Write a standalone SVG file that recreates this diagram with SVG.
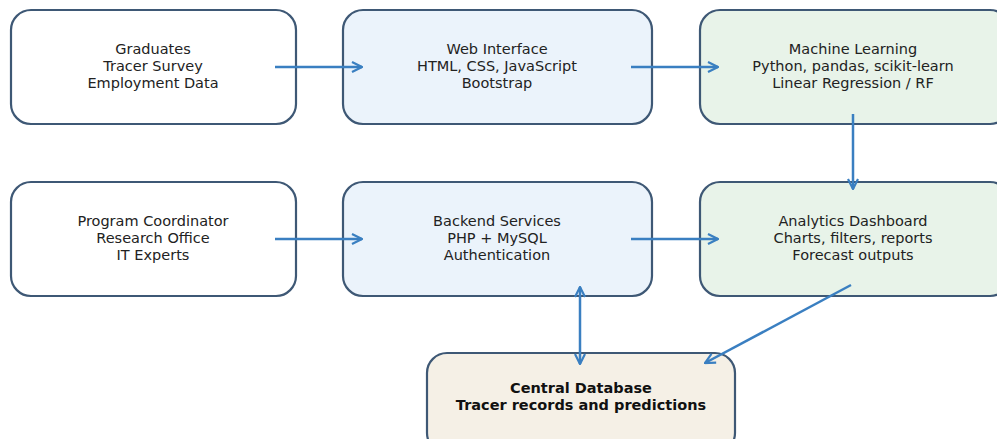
<svg xmlns="http://www.w3.org/2000/svg" width="997" height="439" viewBox="0 0 997 439">
<defs>
<marker id="ah" viewBox="0 0 12 12" refX="11" refY="6" markerWidth="12" markerHeight="12" markerUnits="userSpaceOnUse" orient="auto-start-reverse">
<path d="M1,1 L11,6 L1,11" fill="none" stroke="#3a7fc1" stroke-width="2.2"/>
</marker>
</defs>
<style>
.box{stroke:#3e5875;stroke-width:2.2}
.w{fill:#ffffff}.b{fill:#ebf3fb}.g{fill:#e8f3e9}.d{fill:#f5f0e6}
text{font-family:"DejaVu Sans",sans-serif;font-size:14.5px;fill:#222;text-anchor:middle}
.bold{font-weight:bold;fill:#111}
.c line{stroke:#3a7fc1;stroke-width:2.5;marker-end:url(#ah)}
</style>
<g id="n1"><rect class="box w" x="11" y="10" width="285" height="114" rx="20"/><text x="153" y="54">Graduates</text><text x="153" y="71">Tracer Survey</text><text x="153" y="88">Employment Data</text></g>
<g id="n2"><rect class="box b" x="343" y="10" width="309" height="114" rx="20"/><text x="497" y="54">Web Interface</text><text x="497" y="71">HTML, CSS, JavaScript</text><text x="497" y="88">Bootstrap</text></g>
<g id="n3"><rect class="box g" x="700" y="10" width="310" height="114" rx="20"/><text x="853" y="54">Machine Learning</text><text x="853" y="71">Python, pandas, scikit-learn</text><text x="853" y="88">Linear Regression / RF</text></g>
<g id="n4"><rect class="box w" x="11" y="182" width="285" height="114" rx="20"/><text x="153" y="226">Program Coordinator</text><text x="153" y="243">Research Office</text><text x="153" y="260">IT Experts</text></g>
<g id="n5"><rect class="box b" x="343" y="182" width="309" height="114" rx="20"/><text x="497" y="226">Backend Services</text><text x="497" y="243">PHP + MySQL</text><text x="497" y="260">Authentication</text></g>
<g id="n6"><rect class="box g" x="700" y="182" width="310" height="114" rx="20"/><text x="853" y="226">Analytics Dashboard</text><text x="853" y="243">Charts, filters, reports</text><text x="853" y="260">Forecast outputs</text></g>
<g id="n7"><rect class="box d" x="427" y="353" width="308" height="100" rx="20"/><text class="bold" x="581" y="393">Central Database</text><text class="bold" x="581" y="410">Tracer records and predictions</text></g>
<g id="connectors" class="c">
<line x1="275" y1="67" x2="362" y2="67"/>
<line x1="631" y1="67" x2="718" y2="67"/>
<line x1="275" y1="239" x2="362" y2="239"/>
<line x1="631" y1="239" x2="718" y2="239"/>
<line x1="853" y1="114" x2="853" y2="189"/>
<line x1="580" y1="287" x2="580" y2="364" style="marker-start:url(#ah)"/>
<line x1="851" y1="285" x2="705" y2="363"/>
</g>
</svg>
